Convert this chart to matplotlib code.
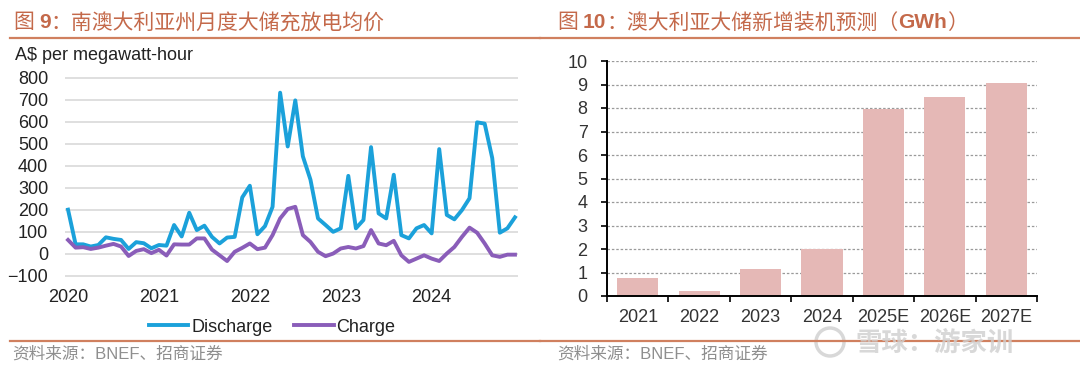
import numpy as np
import pandas as pd
import matplotlib.pyplot as plt
from matplotlib.lines import Line2D
from matplotlib.patches import Ellipse

plt.rcParams['font.family'] = ['Liberation Sans', 'Noto Sans CJK SC', 'DejaVu Sans']

# ---------------- data ----------------
# monthly average battery discharge / charge price in South Australia, Jan 2020 - Dec 2024 (A$/MWh)
months = pd.date_range("2020-01-01", periods=60, freq="MS")
discharge = [200, 42, 42, 32, 39, 74, 67, 62, 21, 52, 47, 24,
             39, 36, 130, 78, 186, 107, 127, 76, 46, 73, 76, 256,
             309, 88, 125, 213, 733, 488, 698, 443, 337, 160, 130, 99,
             115, 354, 115, 153, 485, 183, 160, 359, 84, 69, 115, 130,
             92, 476, 176, 156, 198, 252, 598, 592, 435, 95, 115, 165]
charge = [62, 27, 29, 21, 27, 36, 44, 32, -11, 12, 20, 2,
          17, -9, 42, 41, 41, 69, 69, 18, -8, -34, 8, 26,
          46, 20, 27, 84, 160, 203, 213, 84, 53, 8, -12, 0,
          23, 30, 23, 34, 107, 46, 38, 58, -8, -38, -23, -8,
          -23, -34, 0, 30, 76, 118, 95, 46, -8, -15, -5, -5]
year_labels = ["2020", "2021", "2022", "2023", "2024"]

# new grid-scale storage installs in Australia (GWh)
bar_cats = ["2021", "2022", "2023", "2024", "2025E", "2026E", "2027E"]
bar_vals = [0.78, 0.23, 1.13, 1.99, 7.97, 8.46, 9.06]

W, H = 1080, 373
title_col = '#C4694A'
rule_col = '#D0805F'
src_col = '#8E8E8E'
blue = '#1BA1DA'
purple = '#8A5DB9'
bar_col = '#E5B8B6'


def rect(l, t, r, b):
    return [l / W, 1 - b / H, (r - l) / W, (b - t) / H]


fig = plt.figure(figsize=(W / 100, H / 100), dpi=100)
renderer = fig.canvas.get_renderer()


def draw_title(x_px, y_px, pieces):
    x = x_px
    for s, weight, gap in pieces:
        t = fig.text(x / W, 1 - y_px / H, s, fontsize=15, fontweight=weight,
                     color=title_col, ha='left', va='center')
        bb = t.get_window_extent(renderer=renderer)
        x += bb.width + gap


# ---------------- left: price lines ----------------
ax1 = fig.add_axes(rect(65, 76.9, 518, 276.6))
x = np.arange(len(months))
ax1.plot(x, discharge, color=blue, lw=2.8)
ax1.plot(x, charge, color=purple, lw=2.8)
ax1.set_xlim(-0.4, 59.4)
ax1.set_ylim(-105, 805)
ax1.set_yticks(range(-100, 900, 100))
ax1.set_xticks([0, 12, 24, 36, 48])
ax1.set_xticklabels(year_labels)
ax1.grid(axis='y', color='#D9D9D9', lw=1.2)
ax1.set_axisbelow(True)
for s in ax1.spines.values():
    s.set_visible(False)
ax1.tick_params(axis='y', length=0, pad=12, labelsize=13, labelcolor='#222222')
ax1.tick_params(axis='x', length=0, pad=9, labelsize=13, labelcolor='#222222')

fig.text(15 / W, 1 - 55 / H, "A$ per megawatt-hour", fontsize=13, color='#222222',
         ha='left', va='center')

handles = [Line2D([], [], color=blue, lw=2.8), Line2D([], [], color=purple, lw=2.8)]
fig.legend(handles, ["Discharge", "Charge"], loc='center', bbox_to_anchor=(272 / W, 1 - 327 / H),
           ncol=2, frameon=False, fontsize=13, handlelength=2.2, handletextpad=0.15,
           columnspacing=1.2, labelcolor='#222222')

draw_title(13, 23, [("图", 'normal', 5), ("9", 'bold', 0),
                    ("：南澳大利亚州月度大储充放电均价", 'normal', 0)])

# ---------------- right: bars ----------------
ax2 = fig.add_axes(rect(607, 61, 1037, 296))
ax2.bar(range(len(bar_cats)), bar_vals, width=0.67, color=bar_col, zorder=3)
ax2.set_xlim(-0.5, 6.5)
ax2.set_ylim(0, 10)
ax2.set_yticks(range(0, 11))
ax2.set_xticks(range(len(bar_cats)))
ax2.set_xticklabels(bar_cats)
ax2.set_xticks(np.arange(-0.5, 7, 1), minor=True)
ax2.grid(axis='y', color='#9A9A9A', lw=0.9, linestyle=(0, (2, 1.5)), zorder=0)
ax2.set_axisbelow(True)
ax2.spines['top'].set_visible(False)
ax2.spines['right'].set_visible(False)
ax2.spines['left'].set_linewidth(1.4)
ax2.spines['bottom'].set_linewidth(1.4)
ax2.spines['left'].set_zorder(4)
ax2.spines['bottom'].set_zorder(4)
ax2.tick_params(axis='y', length=4, width=1.2, direction='out', pad=10, labelsize=13,
                labelcolor='#333333')
ax2.tick_params(axis='x', which='major', length=0, pad=9, labelsize=13, labelcolor='#333333')
ax2.tick_params(axis='x', which='minor', length=4, width=1.2, direction='out')

draw_title(557, 23, [("图", 'normal', 5), ("10", 'bold', 0),
                     ("：澳大利亚大储新增装机预测（", 'normal', 0), ("GWh", 'bold', 0),
                     ("）", 'normal', 0)])

# ---------------- rules, sources, watermark ----------------
for (x0, x1) in [(10, 540), (540, 1080)]:
    fig.add_artist(Line2D([x0 / W, x1 / W], [1 - 37.5 / H] * 2, color=rule_col, lw=1.6))
    fig.add_artist(Line2D([x0 / W, x1 / W], [1 - 340.7 / H] * 2, color=rule_col, lw=1.6))

fig.text(12 / W, 1 - 354 / H, "资料来源：BNEF、招商证券", fontsize=12, color=src_col,
         ha='left', va='center')
fig.text(557 / W, 1 - 354 / H, "资料来源：BNEF、招商证券", fontsize=12, color=src_col,
         ha='left', va='center')

# faint watermark
fig.add_artist(Ellipse((830 / W, 1 - 342 / H), 28 / W, 28 / H, transform=fig.transFigure,
                       fill=False, ec='#CFCFCF', lw=2.5, alpha=0.8))
fig.text(855 / W, 1 - 343 / H, "雪球：游家训", fontsize=19, color='#CFCFCF', alpha=0.8,
         ha='left', va='center', fontweight='bold')

fig.savefig("out.png", dpi=100)
